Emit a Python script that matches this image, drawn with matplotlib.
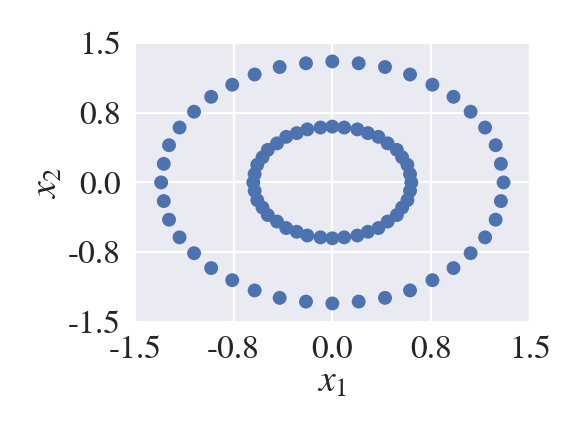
import numpy as np
import matplotlib
matplotlib.use('Agg')
import matplotlib.pyplot as plt
import seaborn as sns

# outer ring points (40)
outer_x = [1.30, 1.28, 1.24, 1.16, 1.05, 0.92, 0.76, 0.59, 0.40, 0.20,
           0.00, -0.20, -0.40, -0.59, -0.76, -0.92, -1.05, -1.16, -1.24, -1.28,
           -1.30, -1.28, -1.24, -1.16, -1.05, -0.92, -0.76, -0.59, -0.40, -0.20,
           0.00, 0.20, 0.40, 0.59, 0.76, 0.92, 1.05, 1.16, 1.24, 1.28]
outer_y = [0.00, 0.20, 0.40, 0.59, 0.76, 0.92, 1.05, 1.16, 1.24, 1.28,
           1.30, 1.28, 1.24, 1.16, 1.05, 0.92, 0.76, 0.59, 0.40, 0.20,
           0.00, -0.20, -0.40, -0.59, -0.76, -0.92, -1.05, -1.16, -1.24, -1.28,
           -1.30, -1.28, -1.24, -1.16, -1.05, -0.92, -0.76, -0.59, -0.40, -0.20]

# inner ring points (40)
inner_x = [0.60, 0.59, 0.57, 0.53, 0.49, 0.42, 0.35, 0.27, 0.19, 0.09,
           0.00, -0.09, -0.19, -0.27, -0.35, -0.42, -0.49, -0.53, -0.57, -0.59,
           -0.60, -0.59, -0.57, -0.53, -0.49, -0.42, -0.35, -0.27, -0.19, -0.09,
           0.00, 0.09, 0.19, 0.27, 0.35, 0.42, 0.49, 0.53, 0.57, 0.59]
inner_y = [0.00, 0.09, 0.19, 0.27, 0.35, 0.42, 0.49, 0.53, 0.57, 0.59,
           0.60, 0.59, 0.57, 0.53, 0.49, 0.42, 0.35, 0.27, 0.19, 0.09,
           0.00, -0.09, -0.19, -0.27, -0.35, -0.42, -0.49, -0.53, -0.57, -0.59,
           -0.60, -0.59, -0.57, -0.53, -0.49, -0.42, -0.35, -0.27, -0.19, -0.09]

ticks = [-1.5, -0.75, 0.0, 0.75, 1.5]
tick_labels = ['-1.5', '-0.8', '0.0', '0.8', '1.5']

sns.set_theme(style='darkgrid')
plt.rcParams['font.family'] = 'serif'
plt.rcParams['font.serif'] = ['STIXGeneral', 'Liberation Serif', 'DejaVu Serif']
plt.rcParams['mathtext.fontset'] = 'stix'
plt.rcParams['grid.linewidth'] = 1.6

fig = plt.figure(figsize=(5.81, 4.37), dpi=100)
ax = fig.add_axes([0.232, 0.263, 0.68, 0.639])

x = np.array(outer_x + inner_x)
y = np.array(outer_y + inner_y)
ax.scatter(x, y, s=100, color='#4C72B0', edgecolors='none')

ax.set_xlim(-1.5, 1.5)
ax.set_ylim(-1.5, 1.5)
ax.set_xticks(ticks)
ax.set_xticklabels(tick_labels)
ax.set_yticks(ticks)
ax.set_yticklabels(tick_labels)
ax.tick_params(labelsize=24, pad=4)
ax.set_xlabel('$x_1$', fontsize=27, labelpad=0)
ax.set_ylabel('$x_2$', fontsize=27, labelpad=2)

fig.savefig('out.png', dpi=100)
